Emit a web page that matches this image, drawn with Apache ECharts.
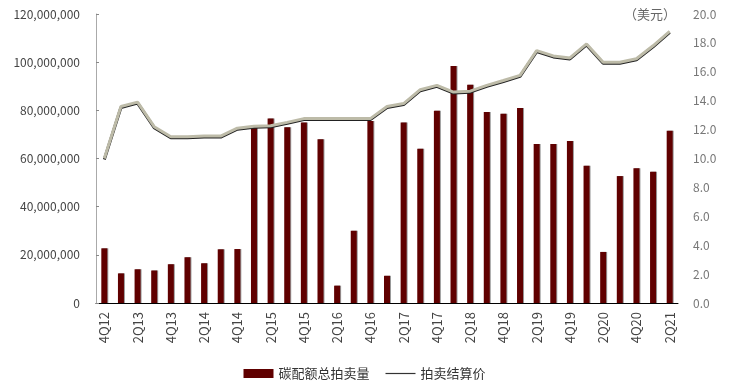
<!DOCTYPE html>
<html><head><meta charset="utf-8">
<script src="https://cdn.jsdelivr.net/npm/echarts@6/dist/echarts.min.js"></script>
<style>html,body{margin:0;padding:0;background:#fff}#c{width:729px;height:386px}</style>
</head><body><div id="c"></div>
<script>
const categories = ["4Q12","1Q13","2Q13","3Q13","4Q13","1Q14","2Q14","3Q14","4Q14","1Q15","2Q15","3Q15","4Q15","1Q16","2Q16","3Q16","4Q16","1Q17","2Q17","3Q17","4Q17","1Q18","2Q18","3Q18","4Q18","1Q19","2Q19","3Q19","4Q19","1Q20","2Q20","3Q20","4Q20","1Q21","2Q21"];
const volume = [22700000,12300000,14000000,13500000,16100000,19000000,16500000,22300000,22400000,73000000,76600000,73000000,75000000,68000000,7200000,30000000,75600000,11300000,75000000,64000000,79800000,98400000,90600000,79300000,78600000,81000000,66000000,66000000,67300000,57000000,21200000,52700000,56000000,54500000,71500000];
const price = [10.0,13.6,13.9,12.2,11.5,11.5,11.55,11.55,12.1,12.23,12.27,12.5,12.76,12.76,12.76,12.76,12.76,13.6,13.8,14.76,15.06,14.6,14.66,15.06,15.4,15.75,17.47,17.1,16.96,17.93,16.66,16.66,16.9,17.8,18.8];
const leftTicks = [0,20000000,40000000,60000000,80000000,100000000,120000000];
const rightTicks = [0,2,4,6,8,10,12,14,16,18,20];
const seriesNames = ["碳配额总拍卖量","拍卖结算价"];

const chart = echarts.init(document.getElementById('c'));
const font = '"Noto Sans CJK SC", "Noto Sans", sans-serif';
chart.setOption({
  animation:false,
  textStyle:{fontFamily:font},
  grid:{left:96,right:51,top:14,bottom:83},
  legend:{
    top:362,left:'center',itemWidth:30,itemHeight:9,itemGap:16,
    textStyle:{fontSize:13,color:'#333',fontFamily:font},
    data:[{name:seriesNames[0],icon:'rect',itemStyle:{color:'#600000'}},
          {name:seriesNames[1],icon:'path://M0,4 L30,4 L30,5.2 L0,5.2 Z',itemStyle:{color:'#333'}}]
  },
  xAxis:{
    type:'category',data:categories,
    axisLine:{lineStyle:{color:'#000',width:1}},
    axisTick:{show:false},
    axisLabel:{rotate:90,interval:1,fontSize:13,color:'#444',margin:9,fontFamily:font}
  },
  yAxis:[{
    type:'value',min:0,max:120000000,interval:20000000,
    axisLine:{show:true,lineStyle:{color:'#aaa'}},
    axisTick:{show:true,inside:true,length:3,lineStyle:{color:'#888'}},
    splitLine:{show:false},
    axisLabel:{fontSize:12,color:'#444',margin:16,fontFamily:font,
      formatter:v=>leftTicks.includes(v)?v.toLocaleString('en-US'):''}
  },{
    type:'value',min:0,max:20,interval:2,position:'right',
    name:'（美元）',nameLocation:'end',nameGap:0,
    nameTextStyle:{color:'#666',fontSize:13,align:'right',verticalAlign:'middle',padding:[4,2,0,0]},
    axisLine:{show:false},axisTick:{show:false},splitLine:{show:false},
    axisLabel:{fontSize:12,color:'#777',margin:15,fontFamily:font,
      formatter:v=>rightTicks.includes(v)?v.toFixed(1):''}
  }],
  series:[{
    name:seriesNames[0],type:'bar',data:volume,barWidth:6,yAxisIndex:0,
    itemStyle:{color:'#600000',shadowColor:'#999',shadowOffsetX:1,shadowBlur:0}
  },{
    name:seriesNames[1],type:'line',data:price,yAxisIndex:1,symbol:'none',
    lineStyle:{color:'#bdbba8',width:3,shadowColor:'#222',shadowOffsetY:1,shadowBlur:0},
    itemStyle:{color:'#333'}
  }]
});
</script></body></html>
